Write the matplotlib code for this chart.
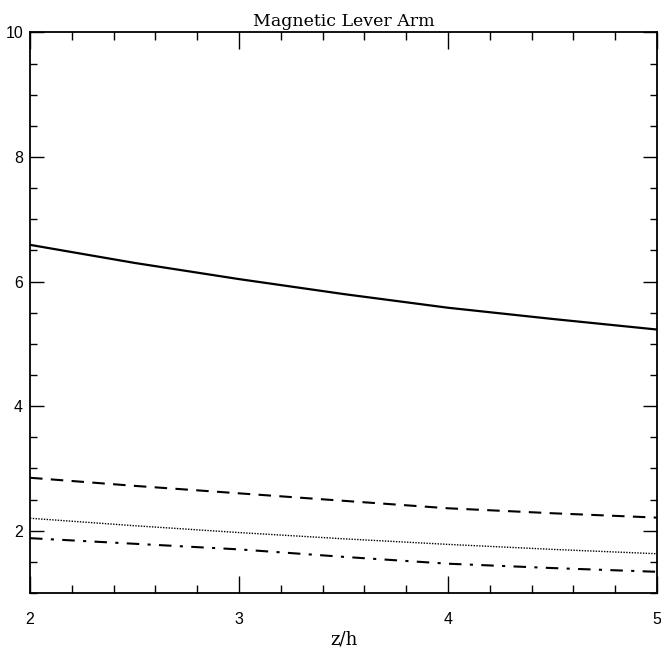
import matplotlib
matplotlib.use("Agg")
import matplotlib.pyplot as plt
from matplotlib.ticker import MultipleLocator

# Data
z = [2.0, 2.5, 3.0, 3.5, 4.0, 4.5, 5.0]
solid = [6.59, 6.30, 6.04, 5.80, 5.58, 5.40, 5.23]
dashed = [2.85, 2.72, 2.60, 2.48, 2.36, 2.28, 2.21]
dotted = [2.20, 2.08, 1.97, 1.87, 1.78, 1.70, 1.63]
dashdot = [1.88, 1.79, 1.70, 1.58, 1.47, 1.40, 1.34]

title = "Magnetic Lever Arm"
xlabel = "z/h"
xticks = [2, 3, 4, 5]
yticks = [2, 4, 6, 8, 10]

fig = plt.figure(figsize=(6.61, 6.55), dpi=100)
ax = fig.add_axes([0.0454, 0.0947, 0.9486, 0.8557])

ax.plot(z, solid, color="black", lw=1.6, ls="-")
ax.plot(z, dashed, color="black", lw=1.5, ls=(0, (6, 4)))
ax.plot(z, dotted, color="black", lw=1.0, ls=(0, (1, 1.0)))
ax.plot(z, dashdot, color="black", lw=1.5, ls=(0, (6, 4, 1.5, 4)))

ax.set_xlim(2, 5)
ax.set_ylim(1, 10)
ax.set_xticks(xticks)
ax.set_yticks(yticks)
ax.xaxis.set_minor_locator(MultipleLocator(0.2))
ax.yaxis.set_minor_locator(MultipleLocator(0.5))

ax.tick_params(which="both", direction="in", top=True, right=True, width=1.0)
ax.tick_params(which="major", axis="x", length=12, pad=14)
ax.tick_params(which="minor", axis="x", length=6)
ax.tick_params(which="major", axis="y", length=10, pad=5)
ax.tick_params(which="minor", axis="y", length=5)
for lab in ax.get_xticklabels() + ax.get_yticklabels():
    lab.set_fontfamily("Liberation Sans")
    lab.set_fontsize(11.5)
for s in ax.spines.values():
    s.set_linewidth(1.3)

ax.set_title(title, fontfamily="DejaVu Serif", fontsize=12.5, pad=5)
ax.set_xlabel(xlabel, fontfamily="DejaVu Serif", fontsize=13, labelpad=2)

fig.savefig("out.png", dpi=100)
